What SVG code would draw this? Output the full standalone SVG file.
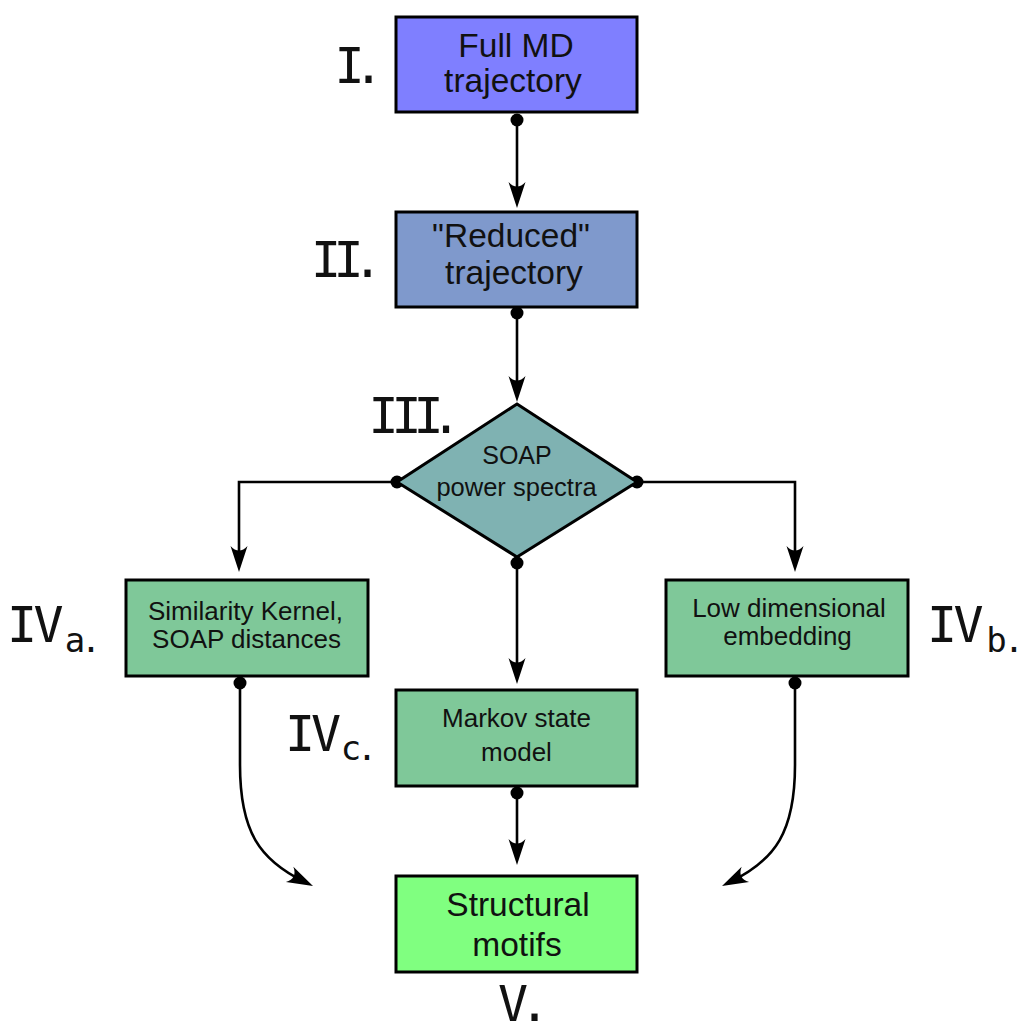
<svg xmlns="http://www.w3.org/2000/svg" width="1024" height="1021" viewBox="0 0 1024 1021">
<style>
.box{stroke:#000;stroke-width:3}
.t1{font-family:"Liberation Sans",Arial,sans-serif;font-size:33.5px;fill:#111;text-anchor:middle}
.t2{font-family:"Liberation Sans",Arial,sans-serif;font-size:26px;fill:#111;text-anchor:middle}
.num{font-family:"DejaVu Sans Mono",monospace;font-size:50px;fill:#111;text-anchor:middle}
.sub{font-family:"DejaVu Sans Mono",monospace;font-size:34px;fill:#111;text-anchor:middle}
.con{fill:none;stroke:#000;stroke-width:2.6;marker-start:url(#dot);marker-end:url(#arr)}
</style>
<defs>
<marker id="arr" markerUnits="userSpaceOnUse" viewBox="-28 -10 30 20" refX="-10" refY="0" markerWidth="30" markerHeight="20" orient="auto">
<path d="M0,0 L-26,-8.5 C-20,-3 -20,3 -26,8.5 Z" fill="#000"/>
</marker>
<marker id="dot" markerUnits="userSpaceOnUse" viewBox="-8 -8 16 16" refX="0" refY="0" markerWidth="16" markerHeight="16" orient="auto">
<circle cx="0" cy="0" r="6.5" fill="#000"/>
</marker>
</defs>
<rect width="1024" height="1021" fill="#fff"/>

<g id="connectors">
<path class="con" d="M517,120 V198"/>
<path class="con" d="M517,313 V392"/>
<path class="con" d="M397,482 H239 V562"/>
<path class="con" d="M637,482 H795 V562"/>
<path class="con" d="M517,563 V674"/>
<path class="con" d="M517,793 V855"/>
<path class="con" d="M240,683 V765 C240,832 260,860 304,881.5"/>
<path class="con" d="M795,683 V765 C795,832 775,860 731,881.5"/>
</g>

<g id="node-I">
<rect class="box" x="396" y="17" width="241" height="95" fill="#7f7fff"/>
<text class="t1" x="516" y="57">Full MD</text>
<text class="t1" x="513" y="92">trajectory</text>
<text class="num" x="349.5 368.5" y="83">I.</text>
</g>

<g id="node-II">
<rect class="box" x="396" y="212" width="241" height="95" fill="#7f99cc"/>
<text class="t1" x="511" y="247">"Reduced"</text>
<text class="t1" x="514" y="284">trajectory</text>
<text class="num" x="326 348.5 367.5" y="277">II.</text>
</g>

<g id="node-III">
<path class="box" d="M517,404 L637,482 L517,557 L397,482 Z" fill="#7fb2b2"/>
<text class="t2" x="517" y="464" style="font-size:25px">SOAP</text>
<text class="t2" x="516.5" y="496" style="font-size:25.5px">power spectra</text>
<text class="num" x="383.5 406.5 428.5 446" y="433">III.</text>
</g>

<g id="node-IVa">
<rect class="box" x="126" y="580" width="242" height="96" fill="#7fc899"/>
<text class="t2" x="245.5" y="620">Similarity Kernel,</text>
<text class="t2" x="246.5" y="648">SOAP distances</text>
<text class="num" x="22 48.5" y="642">IV</text>
<text class="sub" x="75 91" y="652">a.</text>
</g>

<g id="node-IVb">
<rect class="box" x="666" y="580" width="242" height="96" fill="#7fc899"/>
<text class="t2" x="789" y="617">Low dimensional</text>
<text class="t2" x="787.5" y="645">embedding</text>
<text class="num" x="942 968.5" y="642">IV</text>
<text class="sub" x="996.5 1014" y="652">b.</text>
</g>

<g id="node-IVc">
<rect class="box" x="396" y="690" width="241" height="96" fill="#7fc899"/>
<text class="t2" x="516.5" y="727">Markov state</text>
<text class="t2" x="516.5" y="761">model</text>
<text class="num" x="300 326" y="751">IV</text>
<text class="sub" x="351 367" y="760">c.</text>
</g>

<g id="node-V">
<rect class="box" x="396" y="876" width="241" height="96" fill="#80ff80"/>
<text class="t1" x="518" y="916">Structural</text>
<text class="t1" x="517" y="956">motifs</text>
<text class="num" x="513 534.5" y="1021">V.</text>
</g>
</svg>
